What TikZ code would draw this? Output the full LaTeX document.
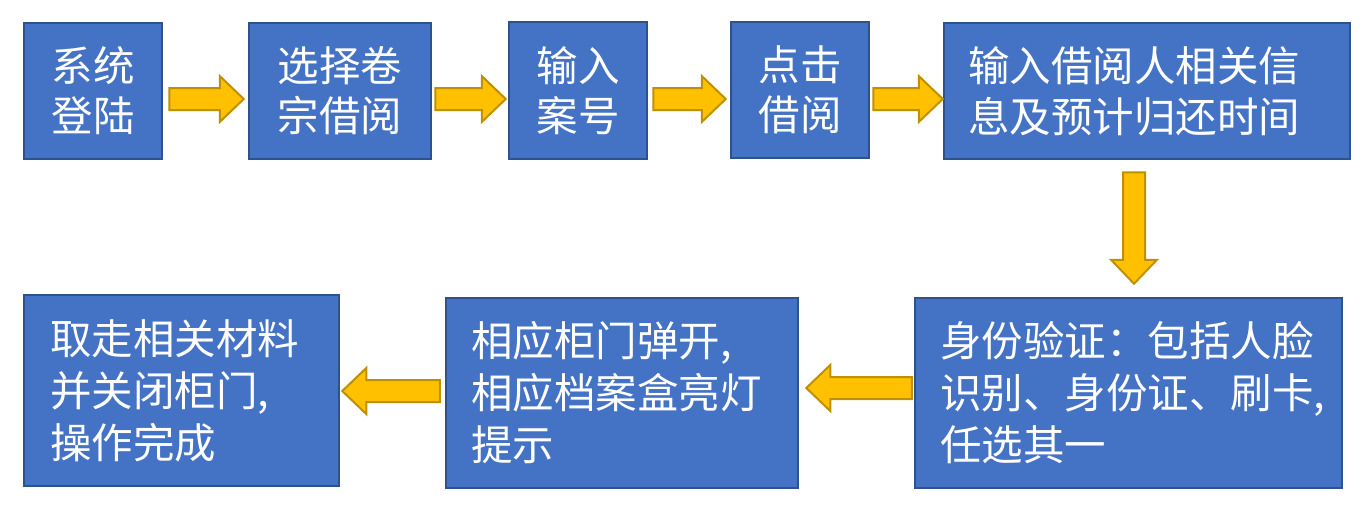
\documentclass[tikz,border=0pt]{standalone}
\usepackage{fontspec}
\newfontfamily\cjk{Noto Sans CJK SC}
\usetikzlibrary{calc}
\definecolor{boxfill}{HTML}{4472C4}
\definecolor{boxline}{HTML}{2F528F}
\definecolor{arrfill}{HTML}{FFC000}
\definecolor{arrline}{HTML}{BF9000}
\tikzset{
  box/.style={draw=boxline, fill=boxfill, line width=2.5pt, text=white, inner sep=0pt,
    font=\cjk\fontsize{41.5}{50}\selectfont},
  topbox/.style={box, align=center},
  lbox/.style={box, align=left, font=\cjk\fontsize{41.5}{52}\selectfont},
  blk/.style={draw=arrline, fill=arrfill, line width=2pt, line join=miter},
}
\newcommand\blockarrow[2]{%
  \coordinate (bah) at ($(#2)!24pt!(#1)$);
  \draw[blk] ($(#1)!11pt!90:(#2)$) -- ($(bah)!11pt!-90:(#1)$) -- ($(bah)!23pt!-90:(#1)$) -- (#2)
    -- ($(bah)!23pt!90:(#1)$) -- ($(bah)!11pt!90:(#1)$) -- ($(#1)!11pt!-90:(#2)$) -- cycle;}
\begin{document}
\begin{tikzpicture}[x=1pt,y=-1pt]
\useasboundingbox (0,0) rectangle (1372,514);
\node[topbox, minimum width=138pt, minimum height=136pt] (b1) at (93,91) {系统\\登陆};
\node[topbox, minimum width=182pt, minimum height=136pt] (b2) at (340,91) {选择卷\\宗借阅};
\node[topbox, minimum width=138pt, minimum height=137pt] (b3) at (578,90.5) {输入\\案号};
\node[topbox, minimum width=138pt, minimum height=136pt] (b4) at (800,90) {点击\\借阅};
\node[lbox, font=\cjk\fontsize{41.5}{51}\selectfont, text width=358pt, minimum width=406pt, minimum height=136pt] (b5) at (1147,91) {输入借阅人相关信\\息及预计归还时间};
\node[lbox, text width=377pt, minimum width=427pt, minimum height=190pt] (b6) at (1128.5,393) {身份验证：包括人脸\\识别、身份证、刷卡,\\任选其一};
\node[lbox, text width=302pt, minimum width=352pt, minimum height=190pt] (b7) at (622,393) {相应柜门弹开,\\相应档案盒亮灯\\提示};
\node[lbox, text width=263pt, minimum width=315pt, minimum height=191pt] (b8) at (181.5,390.5) {取走相关材料\\并关闭柜门,\\操作完成};
% connector end points
\coordinate (a1s) at ($(b1.east)+(6,8)$);
\coordinate (a1e) at ($(b2.west)+(-4,8)$);
\coordinate (a2s) at ($(b2.east)+(3,8)$);
\coordinate (a2e) at ($(b3.west)+(-2,8.5)$);
\coordinate (a3s) at ($(b3.east)+(5,8.5)$);
\coordinate (a3e) at ($(b4.west)+(-4,9)$);
\coordinate (a4s) at ($(b4.east)+(3,9)$);
\coordinate (a4e) at ($(b5.west)+(0,8)$);
\coordinate (a5s) at ($(b5.south)+(-13,12)$);
\coordinate (a5e) at ($(b6.north)+(5.5,-13)$);
\coordinate (a6s) at ($(b6.west)+(-2,-5)$);
\coordinate (a6e) at ($(b7.east)+(7,-5)$);
\coordinate (a7s) at ($(b7.west)+(-5,-2)$);
\coordinate (a7e) at ($(b8.east)+(2,0.5)$);
\blockarrow{a1s}{a1e}
\blockarrow{a2s}{a2e}
\blockarrow{a3s}{a3e}
\blockarrow{a4s}{a4e}
\blockarrow{a5s}{a5e}
\blockarrow{a6s}{a6e}
\blockarrow{a7s}{a7e}
\end{tikzpicture}
\end{document}
